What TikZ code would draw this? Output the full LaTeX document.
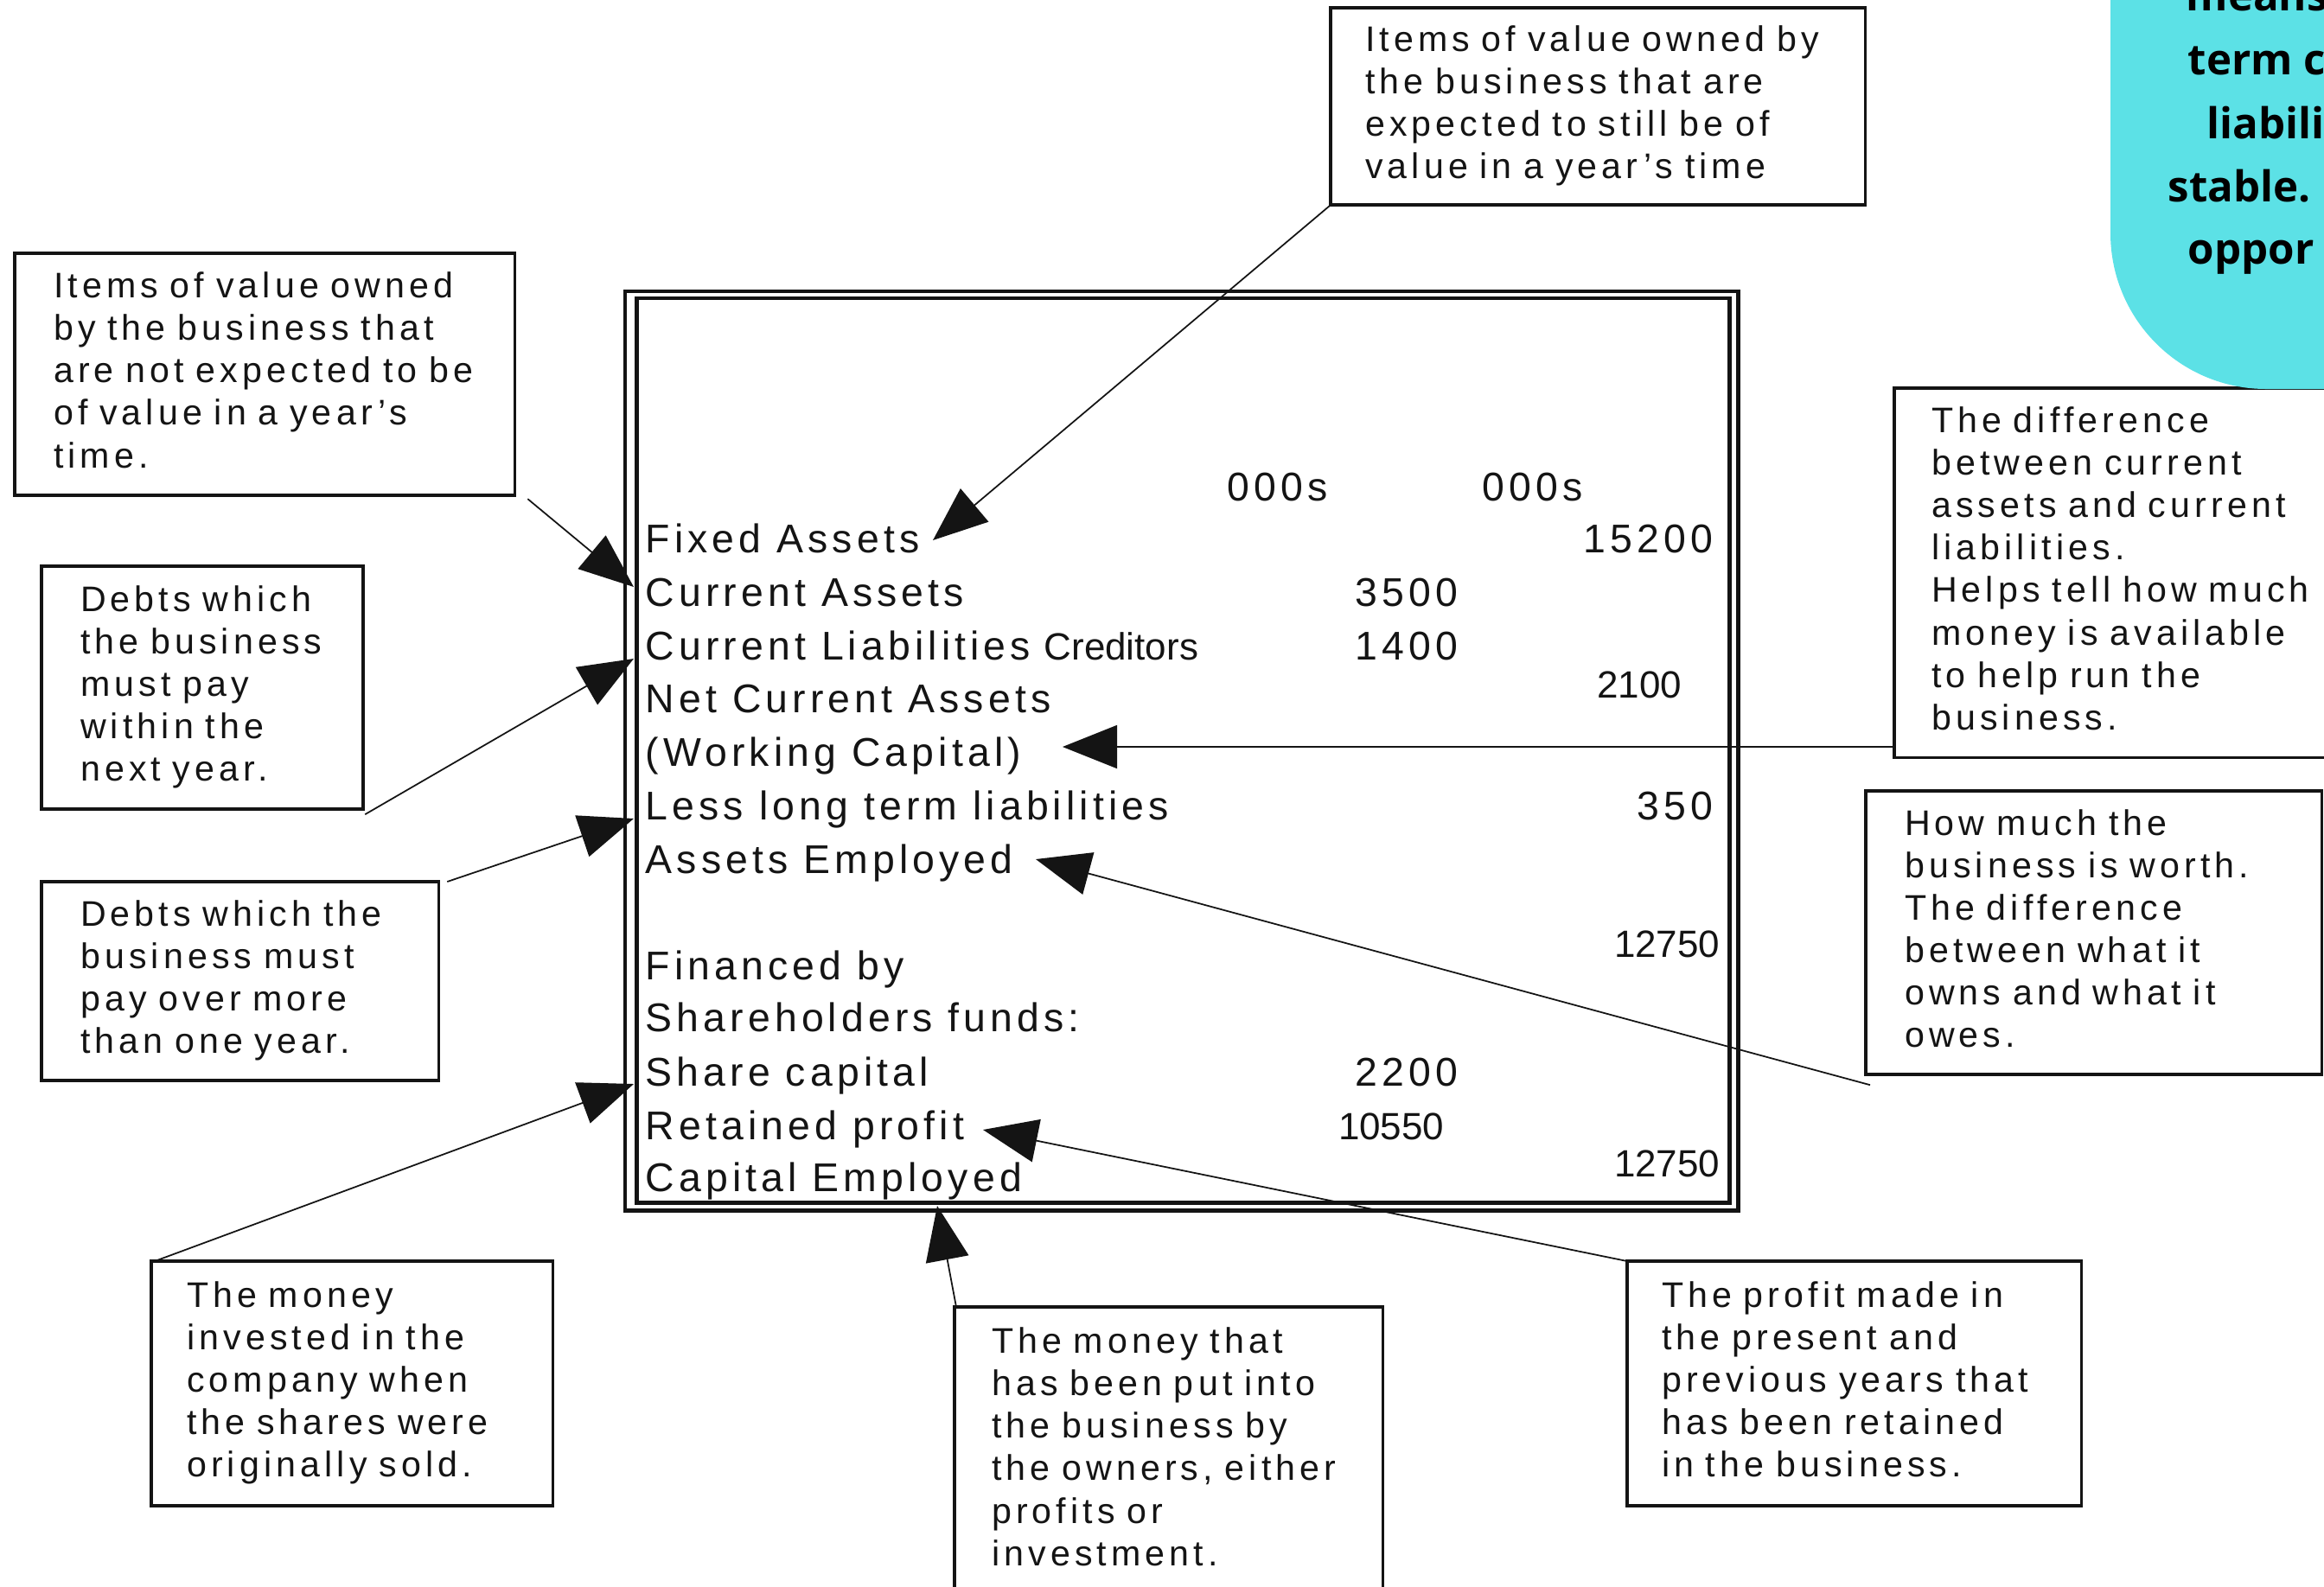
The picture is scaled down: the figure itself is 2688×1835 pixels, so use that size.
\documentclass[tikz,border=0pt]{standalone}
\usepackage{fontspec}
\setmainfont{Liberation Sans}
\newfontfamily\trk[LetterSpace=11]{Liberation Sans}
\newfontfamily\trkb[LetterSpace=12.5]{Liberation Sans}
\newfontfamily\cyf{Open Sans}
\usetikzlibrary{arrows.meta}
\definecolor{cyanbg}{RGB}{92,225,230}
\definecolor{ink}{RGB}{20,20,20}
\newcommand\lns[1]{\begin{tabular}{@{}l@{}}#1\end{tabular}}
\tikzset{
  annot/.style={draw=ink, line width=1pt, anchor=north west, outer sep=0pt, inner ysep=0pt,
    align=left, text=ink, font=\trkb\fontsize{11.7}{13.95}\selectfont},
  conn/.style={draw=ink, line width=0.5pt, -{Triangle[length=6.3mm,width=5mm]}},
  row/.style={anchor=base west, inner sep=0pt, text=ink, font=\trk\fontsize{13.2}{15}\selectfont},
  num/.style={anchor=base east, inner sep=0pt, text=ink, font=\trk\fontsize{13.2}{15}\selectfont},
  numn/.style={anchor=base east, inner sep=0pt, text=ink, font=\fontsize{12.5}{15}\selectfont},
  frame/.style={draw=ink, line width=1.4pt, anchor=north west, outer sep=0pt, inner sep=0pt},
  cytext/.style={anchor=base west, inner sep=0pt, text=black, font=\cyf\bfseries\fontsize{14}{17}\selectfont},
}
\begin{document}
\begin{tikzpicture}[x=0.01cm, y=-0.01cm]
\useasboundingbox (0,0) rectangle (2688,1835);
\clip (0,0) rectangle (2688,1835);

% main double frame
\node[frame, minimum width=128.7mm, minimum height=106.3mm] (outer) at (723,337) {};
\node[frame, minimum width=126.35mm, minimum height=104.6mm] (inner) at (736.5,345) {};

% table rows
\node[row] (h1) at (1419,579) {000s};
\node[row] (h2) at (1714,579) {000s};
\node[row] (fa) at (746,639) {Fixed Assets};
\node[row] (ca) at (746,701) {Current Assets};
\node[row] (cl) at (746,763) {Current Liabilities};
\node[numn, anchor=base west] (cred) at (1207,763) {Creditors};
\node[row] (nca) at (746,824) {Net Current Assets};
\node[row] (wc) at (746,886) {(Working Capital)};
\node[row] (ll) at (746,948) {Less long term liabilities};
\node[row] (ae) at (746,1010) {Assets Employed};
\node[row] (fb) at (746,1133) {Financed by};
\node[row] (sf) at (746,1193) {Shareholders funds:};
\node[row] (sc) at (746,1256) {Share capital};
\node[row] (rp) at (746,1318) {Retained profit};
\node[row] (ce) at (746,1378) {Capital Employed};

\node[num] (n1) at (1982,639) {15200};
\node[num] (n2) at (1687,701) {3500};
\node[num] (n3) at (1687,763) {1400};
\node[numn] (n4) at (1946,807) {2100};
\node[num] (n5) at (1982,948) {350};
\node[numn] (n6) at (1990,1107) {12750};
\node[num] (n7) at (1687,1256) {2200};
\node[numn] (n8) at (1671,1318) {10550};
\node[numn] (n9) at (1990,1361) {12750};

% annotation boxes
\node[annot, minimum width=61.8mm, minimum height=22.8mm, inner xsep=4mm, text width=53.8mm] (b1) at (1539,9)
  {\lns{Items of value owned by\\the business that are\\expected to still be of\\value in a year’s time}};
\node[annot, minimum width=57.8mm, minimum height=28mm, inner xsep=4.5mm, text width=48.8mm] (b2) at (17,293)
  {\lns{Items of value owned\\by the business that\\are not expected to be\\of value in a year’s\\time.}};
\node[annot, minimum width=37.2mm, minimum height=28.1mm, inner xsep=4.5mm, text width=28.2mm] (b3) at (48,655)
  {\lns{Debts which\\the business\\must pay\\within the\\next year.}};
\node[annot, minimum width=45.9mm, minimum height=23mm, inner xsep=4.5mm, text width=36.9mm] (b4) at (48,1020)
  {\lns{Debts which the\\business must\\pay over more\\than one year.}};
\node[annot, minimum width=46.4mm, minimum height=28.3mm, inner xsep=4.1mm, text width=38.2mm] (b5) at (175,1459)
  {\lns{The money\\invested in the\\company when\\the shares were\\originally sold.}};
\node[annot, minimum width=49.5mm, minimum height=33.3mm, inner xsep=4.3mm, text width=40.9mm] (b6) at (1104,1512)
  {\lns{The money that\\has been put into\\the business by\\the owners, either\\profits or\\investment.}};
\node[annot, minimum width=52.5mm, minimum height=28.3mm, inner xsep=4mm, text width=44.5mm] (b7) at (1882,1459)
  {\lns{The profit made in\\the present and\\previous years that\\has been retained\\in the business.}};
\node[annot, minimum width=52.7mm, minimum height=32.8mm, inner xsep=4.5mm, text width=43.7mm] (b8) at (2158,915)
  {\lns{How much the\\business is worth.\\The difference\\between what it\\owns and what it\\owes.}};
\node[annot, minimum width=56mm, minimum height=42.7mm, inner xsep=4.3mm, text width=47.4mm] (b9) at (2191,449)
  {\lns{The difference\\between current\\assets and current\\liabilities.\\Helps tell how much\\money is available\\to help run the\\business.}};

% arrow tips
\coordinate (t1) at (1079,625);
\coordinate (t2) at (733,679);
\coordinate (t3) at (733,762);
\coordinate (t4) at (733,947);
\coordinate (t5) at (733,1254);
\coordinate (t6) at (1084,1395);
\coordinate (t7) at (1137,1307);
\coordinate (t8) at (1198,994);
\coordinate (t9) at (1229,864);

% connectors
\draw[conn] (b1.south west) -- (t1);
\draw[conn] ([shift={(15,4)}]b2.south east) -- (t2);
\draw[conn] ([shift={(2,6)}]b3.south east) -- (t3);
\draw[conn] ([shift={(10,0)}]b4.north east) -- (t4);
\draw[conn] ([shift={(4,0)}]b5.north west) -- (t5);
\draw[conn] ([shift={(2,0)}]b6.north west) -- (t6);
\draw[conn] (b7.north west) -- (t7);
\draw[conn] ([shift={(5,12)}]b8.south west) -- (t8);
\draw[conn] (b9.west |- t9) -- (t9);

% cyan panel (clipped at the edge)
\fill[cyanbg, rounded corners=18mm] (2441,-400) -- (2441,450) -- (2900,450) -- (2900,-400) -- cycle;
\node[cytext] (c1) at (2528,12) {means};
\node[cytext] (c2) at (2530,86) {term c};
\node[cytext] (c3) at (2552,160) {liabili};
\node[cytext] (c4) at (2507,233) {stable.};
\node[cytext] (c5) at (2530,305) {oppor};
\end{tikzpicture}
\end{document}
